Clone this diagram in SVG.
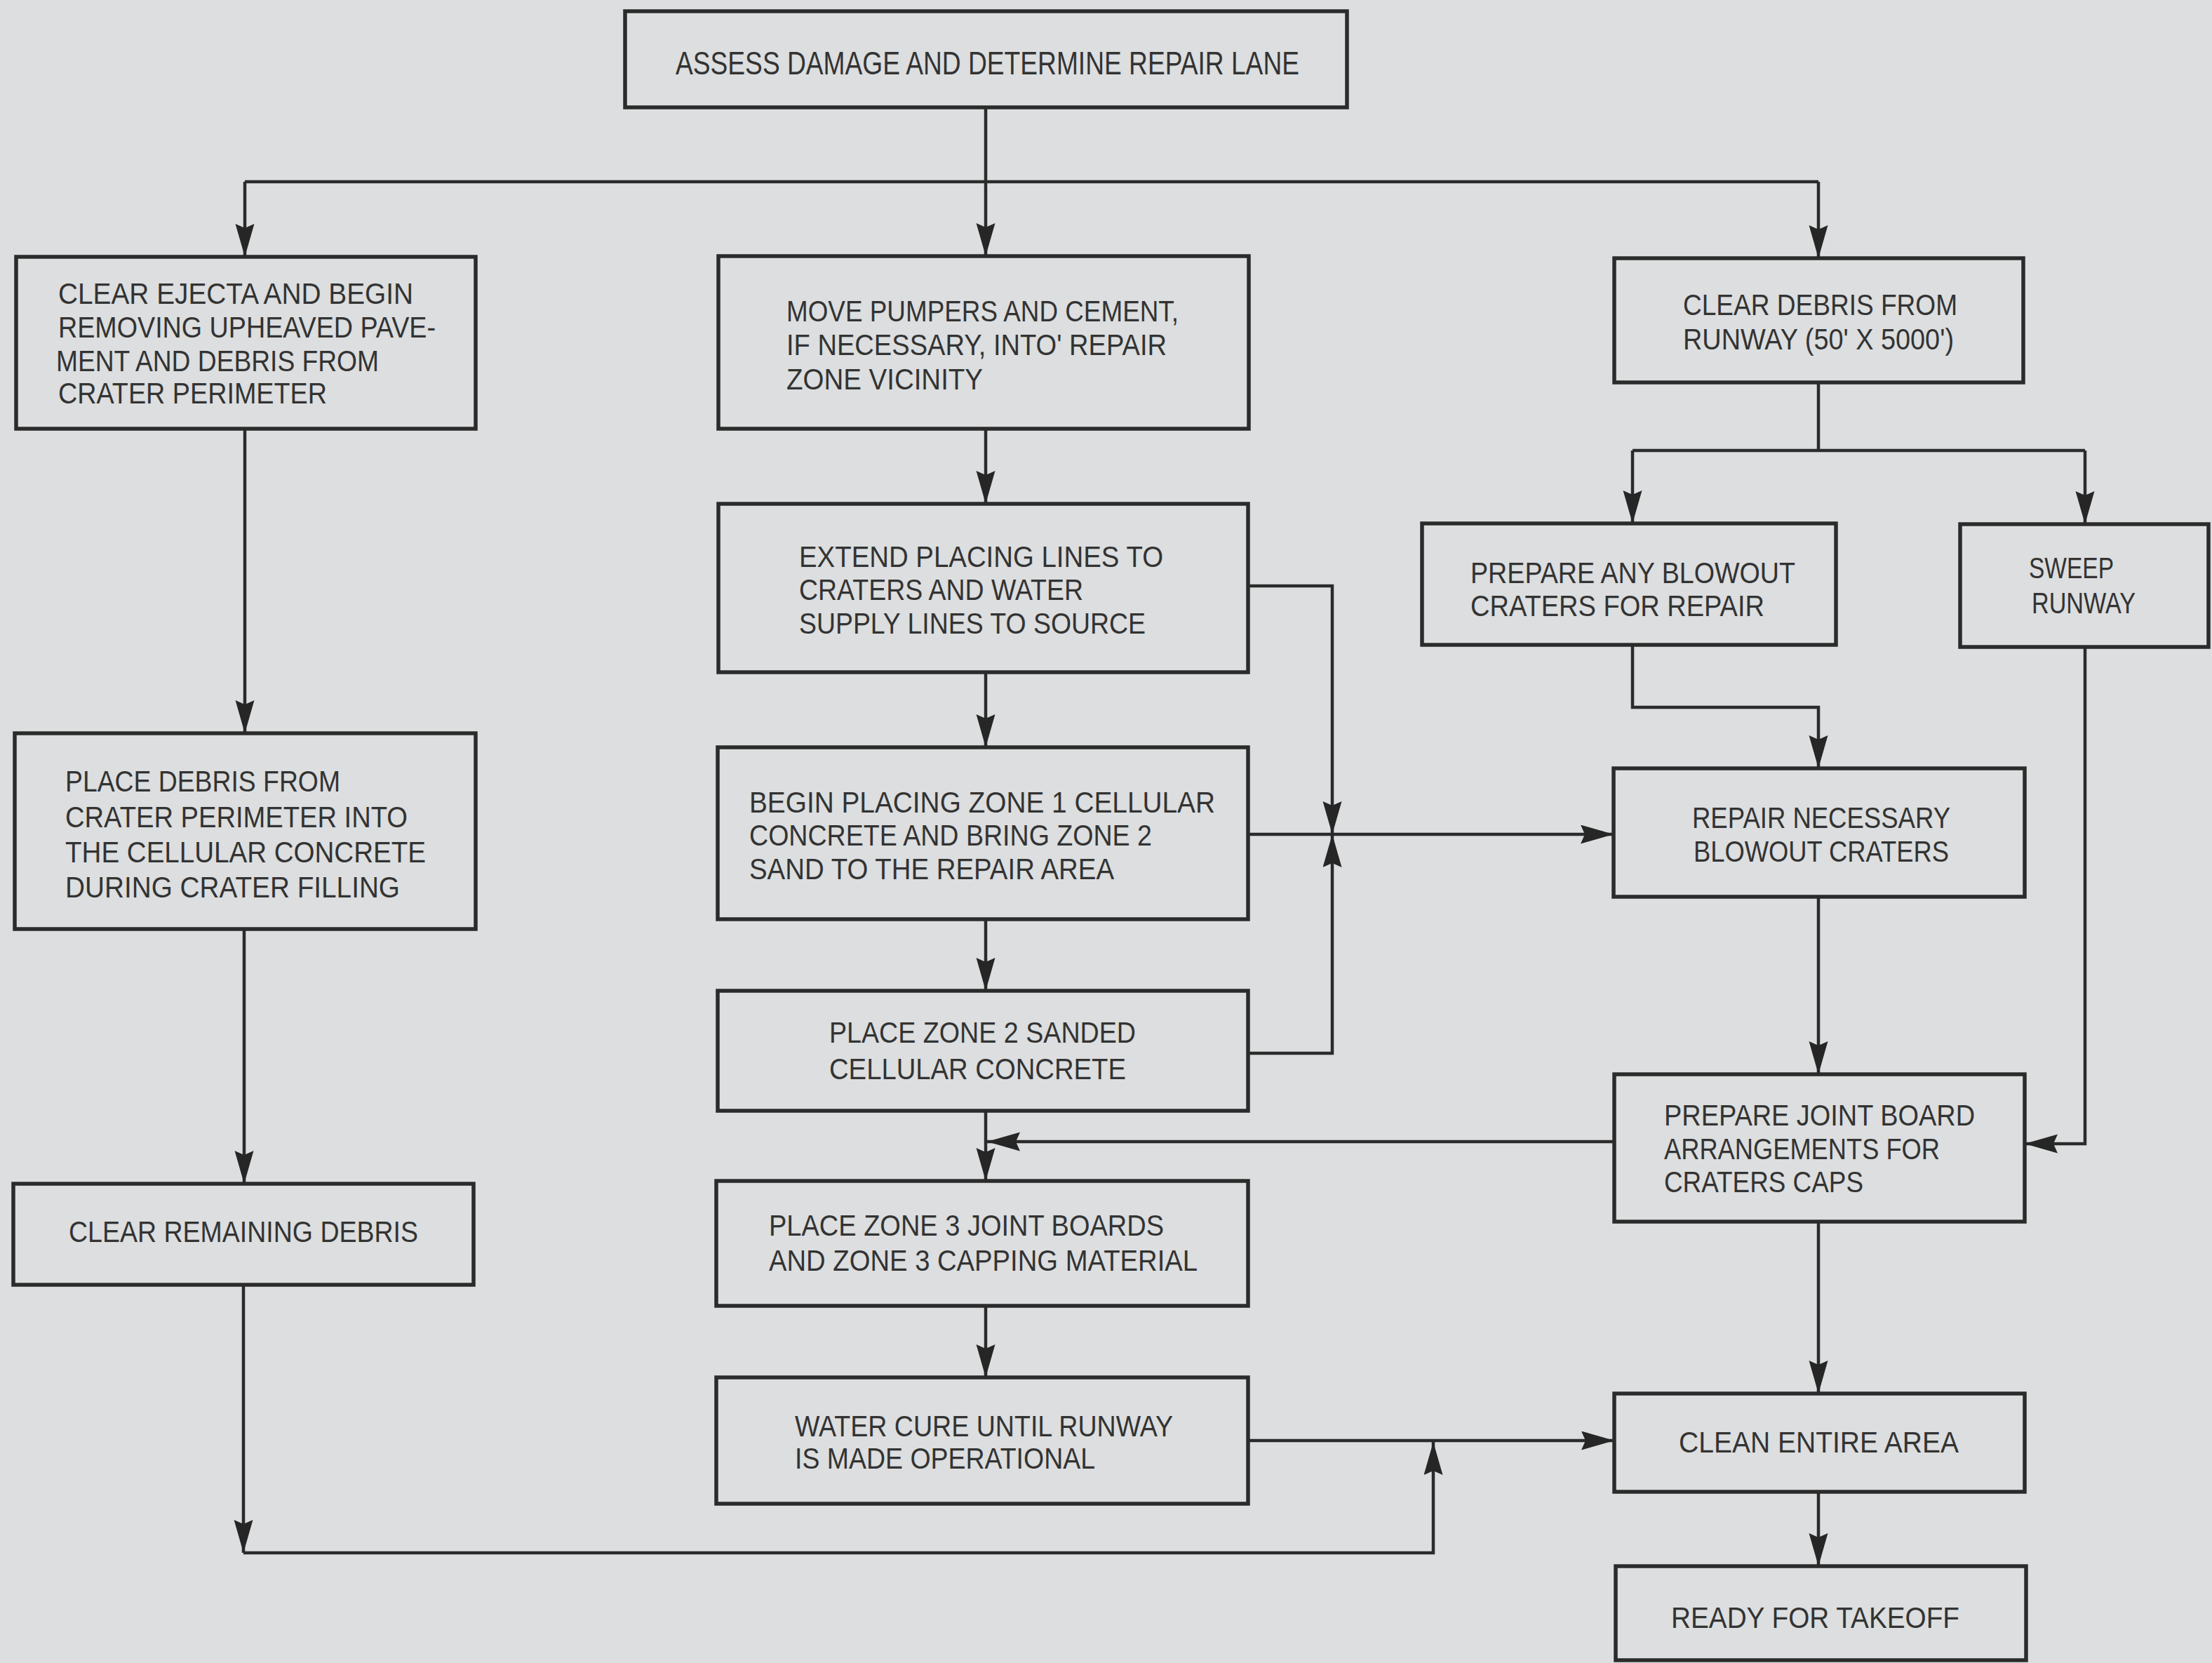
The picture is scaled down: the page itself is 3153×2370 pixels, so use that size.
<svg xmlns="http://www.w3.org/2000/svg" width="3153" height="2370" viewBox="0 0 3153 2370">
<style>
.bg{fill:#dcdedf}
.box{fill:none;stroke:#2b2b2b;stroke-width:5.5}
.t{font-family:"Liberation Sans",Arial,sans-serif;font-size:42px;fill:#333;}
.tt{font-family:"Liberation Sans",Arial,sans-serif;font-size:46px;fill:#333;}
.c{fill:none;stroke:#2b2b2b;stroke-width:4.5}
</style>
<defs>
<marker id="ah" markerUnits="userSpaceOnUse" markerWidth="50" markerHeight="30" refX="47" refY="13.5" orient="auto">
<path d="M0,0 L47,13.5 L0,27 L6,13.5 z" fill="#262626"/>
</marker>
</defs>
<rect class="bg" x="0" y="0" width="3153" height="2370"/>

<g id="connectors">
<line class="c" x1="1405" y1="153" x2="1405" y2="365" marker-end="url(#ah)"/>
<line class="c" x1="349" y1="259" x2="2592" y2="259"/>
<line class="c" x1="349" y1="259" x2="349" y2="366" marker-end="url(#ah)"/>
<line class="c" x1="2592" y1="259" x2="2592" y2="368" marker-end="url(#ah)"/>
<line class="c" x1="349" y1="611" x2="349" y2="1045" marker-end="url(#ah)"/>
<line class="c" x1="348" y1="1324" x2="348" y2="1687" marker-end="url(#ah)"/>
<line class="c" x1="347" y1="1831" x2="347" y2="2213" marker-end="url(#ah)"/>
<polyline class="c" points="347,2213 2043,2213 2043,2055" marker-end="url(#ah)"/>
<line class="c" x1="1779" y1="2053" x2="2301" y2="2053" marker-end="url(#ah)"/>
<line class="c" x1="1405" y1="611" x2="1405" y2="718" marker-end="url(#ah)"/>
<line class="c" x1="1405" y1="958" x2="1405" y2="1065" marker-end="url(#ah)"/>
<line class="c" x1="1405" y1="1310" x2="1405" y2="1412" marker-end="url(#ah)"/>
<line class="c" x1="1405" y1="1583" x2="1405" y2="1683" marker-end="url(#ah)"/>
<line class="c" x1="1405" y1="1861" x2="1405" y2="1963" marker-end="url(#ah)"/>
<polyline class="c" points="1779,835 1899,835 1899,1189" marker-end="url(#ah)"/>
<polyline class="c" points="1779,1501 1899,1501 1899,1189" marker-end="url(#ah)"/>
<line class="c" x1="1779" y1="1189" x2="2300" y2="1189" marker-end="url(#ah)"/>
<line class="c" x1="2592" y1="545" x2="2592" y2="642"/>
<line class="c" x1="2327" y1="642" x2="2972" y2="642"/>
<line class="c" x1="2327" y1="642" x2="2327" y2="746" marker-end="url(#ah)"/>
<line class="c" x1="2972" y1="642" x2="2972" y2="747" marker-end="url(#ah)"/>
<polyline class="c" points="2327,919 2327,1008 2592,1008 2592,1095" marker-end="url(#ah)"/>
<polyline class="c" points="2972,922 2972,1630 2886,1630" marker-end="url(#ah)"/>
<line class="c" x1="2592" y1="1278" x2="2592" y2="1531" marker-end="url(#ah)"/>
<line class="c" x1="2301" y1="1627" x2="1407" y2="1627" marker-end="url(#ah)"/>
<line class="c" x1="2592" y1="1741" x2="2592" y2="1986" marker-end="url(#ah)"/>
<line class="c" x1="2592" y1="2126" x2="2592" y2="2232" marker-end="url(#ah)"/>
</g>

<g id="n-assess">
<rect class="box" x="891" y="16" width="1029" height="137"/>
<text class="tt" x="963" y="106" textLength="889" lengthAdjust="spacingAndGlyphs">ASSESS DAMAGE AND DETERMINE REPAIR LANE</text>
</g>

<g id="n-clear-ejecta">
<rect class="box" x="23" y="366" width="655" height="245"/>
<text class="t" x="83" y="433" textLength="506" lengthAdjust="spacingAndGlyphs">CLEAR EJECTA AND BEGIN</text>
<text class="t" x="83" y="481" textLength="538" lengthAdjust="spacingAndGlyphs">REMOVING UPHEAVED PAVE-</text>
<text class="t" x="80" y="529" textLength="460" lengthAdjust="spacingAndGlyphs">MENT AND DEBRIS FROM</text>
<text class="t" x="83" y="575" textLength="383" lengthAdjust="spacingAndGlyphs">CRATER PERIMETER</text>
</g>

<g id="n-move-pumpers">
<rect class="box" x="1024" y="365" width="756" height="246"/>
<text class="t" x="1121" y="458" textLength="559" lengthAdjust="spacingAndGlyphs">MOVE PUMPERS AND CEMENT,</text>
<text class="t" x="1121" y="506" textLength="542" lengthAdjust="spacingAndGlyphs">IF NECESSARY, INTO' REPAIR</text>
<text class="t" x="1121" y="555" textLength="280" lengthAdjust="spacingAndGlyphs">ZONE VICINITY</text>
</g>

<g id="n-clear-debris-runway">
<rect class="box" x="2301" y="368" width="583" height="177"/>
<text class="t" x="2399" y="449" textLength="391" lengthAdjust="spacingAndGlyphs">CLEAR DEBRIS FROM</text>
<text class="t" x="2399" y="498" textLength="386" lengthAdjust="spacingAndGlyphs">RUNWAY (50' X 5000')</text>
</g>

<g id="n-prepare-blowout">
<rect class="box" x="2027" y="746" width="590" height="173"/>
<text class="t" x="2096" y="831" textLength="463" lengthAdjust="spacingAndGlyphs">PREPARE ANY BLOWOUT</text>
<text class="t" x="2096" y="878" textLength="419" lengthAdjust="spacingAndGlyphs">CRATERS FOR REPAIR</text>
</g>

<g id="n-sweep">
<rect class="box" x="2794" y="747" width="354" height="175"/>
<text class="t" x="2892" y="824" textLength="121" lengthAdjust="spacingAndGlyphs">SWEEP</text>
<text class="t" x="2896" y="874" textLength="148" lengthAdjust="spacingAndGlyphs">RUNWAY</text>
</g>

<g id="n-extend">
<rect class="box" x="1024" y="718" width="755" height="240"/>
<text class="t" x="1139" y="808" textLength="519" lengthAdjust="spacingAndGlyphs">EXTEND PLACING LINES TO</text>
<text class="t" x="1139" y="855" textLength="405" lengthAdjust="spacingAndGlyphs">CRATERS AND WATER</text>
<text class="t" x="1139" y="903" textLength="494" lengthAdjust="spacingAndGlyphs">SUPPLY LINES TO SOURCE</text>
</g>

<g id="n-begin-placing">
<rect class="box" x="1023" y="1065" width="756" height="245"/>
<text class="t" x="1068" y="1158" textLength="664" lengthAdjust="spacingAndGlyphs">BEGIN PLACING ZONE 1 CELLULAR</text>
<text class="t" x="1068" y="1205" textLength="574" lengthAdjust="spacingAndGlyphs">CONCRETE AND BRING ZONE 2</text>
<text class="t" x="1068" y="1253" textLength="520" lengthAdjust="spacingAndGlyphs">SAND TO THE REPAIR AREA</text>
</g>

<g id="n-zone2">
<rect class="box" x="1023" y="1412" width="756" height="171"/>
<text class="t" x="1182" y="1486" textLength="437" lengthAdjust="spacingAndGlyphs">PLACE ZONE 2 SANDED</text>
<text class="t" x="1182" y="1538" textLength="423" lengthAdjust="spacingAndGlyphs">CELLULAR CONCRETE</text>
</g>

<g id="n-place-debris">
<rect class="box" x="21" y="1045" width="657" height="279"/>
<text class="t" x="93" y="1128" textLength="392" lengthAdjust="spacingAndGlyphs">PLACE DEBRIS FROM</text>
<text class="t" x="93" y="1179" textLength="488" lengthAdjust="spacingAndGlyphs">CRATER PERIMETER INTO</text>
<text class="t" x="93" y="1229" textLength="514" lengthAdjust="spacingAndGlyphs">THE CELLULAR CONCRETE</text>
<text class="t" x="93" y="1279" textLength="477" lengthAdjust="spacingAndGlyphs">DURING CRATER FILLING</text>
</g>

<g id="n-repair-blowout">
<rect class="box" x="2300" y="1095" width="586" height="183"/>
<text class="t" x="2412" y="1180" textLength="368" lengthAdjust="spacingAndGlyphs">REPAIR NECESSARY</text>
<text class="t" x="2414" y="1228" textLength="364" lengthAdjust="spacingAndGlyphs">BLOWOUT CRATERS</text>
</g>

<g id="n-joint-board">
<rect class="box" x="2301" y="1531" width="585" height="210"/>
<text class="t" x="2372" y="1604" textLength="443" lengthAdjust="spacingAndGlyphs">PREPARE JOINT BOARD</text>
<text class="t" x="2372" y="1652" textLength="393" lengthAdjust="spacingAndGlyphs">ARRANGEMENTS FOR</text>
<text class="t" x="2372" y="1699" textLength="284" lengthAdjust="spacingAndGlyphs">CRATERS CAPS</text>
</g>

<g id="n-clear-remaining">
<rect class="box" x="19" y="1687" width="656" height="144"/>
<text class="t" x="98" y="1770" textLength="498" lengthAdjust="spacingAndGlyphs">CLEAR REMAINING DEBRIS</text>
</g>

<g id="n-zone3">
<rect class="box" x="1021" y="1683" width="758" height="178"/>
<text class="t" x="1096" y="1761" textLength="563" lengthAdjust="spacingAndGlyphs">PLACE ZONE 3 JOINT BOARDS</text>
<text class="t" x="1096" y="1811" textLength="611" lengthAdjust="spacingAndGlyphs">AND ZONE 3 CAPPING MATERIAL</text>
</g>

<g id="n-water-cure">
<rect class="box" x="1021" y="1963" width="758" height="180"/>
<text class="t" x="1133" y="2047" textLength="539" lengthAdjust="spacingAndGlyphs">WATER CURE UNTIL RUNWAY</text>
<text class="t" x="1133" y="2093" textLength="428" lengthAdjust="spacingAndGlyphs">IS MADE OPERATIONAL</text>
</g>

<g id="n-clean">
<rect class="box" x="2301" y="1986" width="585" height="140"/>
<text class="t" x="2393" y="2070" textLength="399" lengthAdjust="spacingAndGlyphs">CLEAN ENTIRE AREA</text>
</g>

<g id="n-ready">
<rect class="box" x="2303" y="2232" width="585" height="134"/>
<text class="t" x="2382" y="2320" textLength="411" lengthAdjust="spacingAndGlyphs">READY FOR TAKEOFF</text>
</g>
</svg>
